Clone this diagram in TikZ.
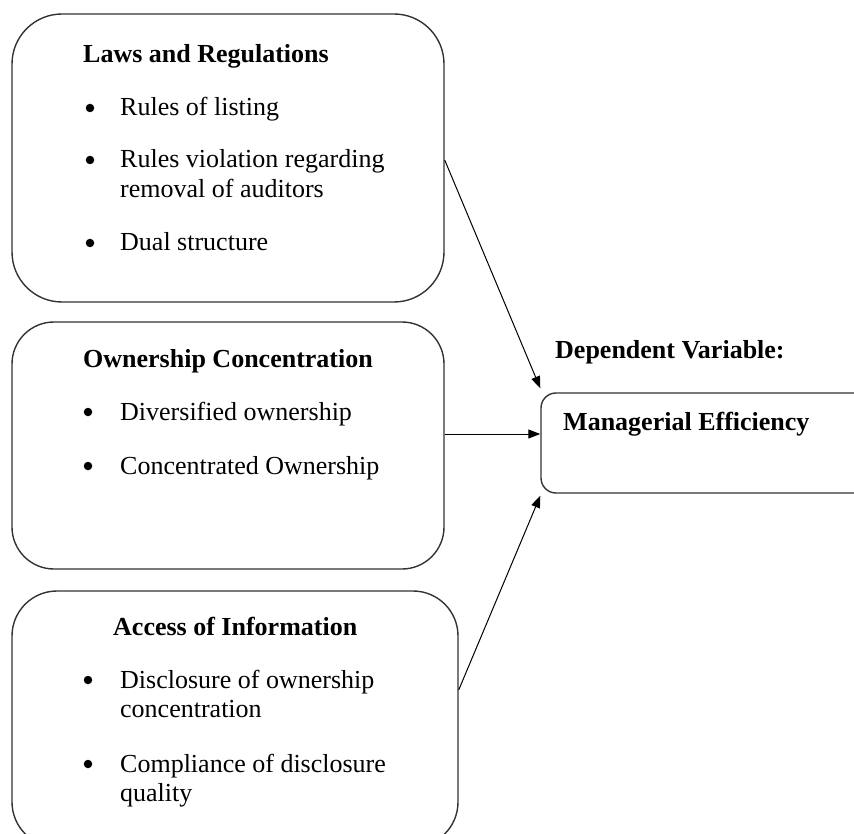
\documentclass[tikz,border=0pt]{standalone}
\usepackage{fontspec}
\setmainfont{Liberation Serif}
\usepackage{tikz}
\usetikzlibrary{positioning,calc,arrows.meta}

\begin{document}
\begin{tikzpicture}[
	x=1pt, y=-1pt,
	font=\fontsize{26}{29.5}\selectfont,
	% khung bo tron
	box/.style={
		draw=black!80, line width=1.4pt, rectangle, inner sep=0pt
	},
	head/.style={font=\fontsize{26}{29.5}\selectfont\bfseries, anchor=base west, inner sep=0pt},
	entry/.style={anchor=base west, inner sep=0pt, text width=330pt, align=flush left},
	dot/.style={circle, fill=black, inner sep=0pt, minimum size=8.5pt},
	% mui ten noi
	link/.style={
		-{Triangle[length=12pt,width=9pt]}, draw=black, line width=1pt
	}
	]
	\useasboundingbox (0,0) rectangle (854,834);
	\clip (0,0) rectangle (854,834);
	
	% cac khung
	\node[box, rounded corners=50pt, minimum width=432pt, minimum height=288pt] (laws) at (228,158) {};
	\node[box, rounded corners=42pt, minimum width=432pt, minimum height=247pt] (owner) at (228,445.5) {};
	\node[box, rounded corners=45pt, minimum width=446pt, minimum height=256pt] (access) at (235,719) {};
	\node[box, rounded corners=15pt, minimum width=330pt, minimum height=100pt] (eff) at (706,443) {};
	
	% Laws and Regulations
	\node[head] (lawshead) at (83,63) {Laws and Regulations};
	\node[dot] (d1) at (90,108) {};
	\node[entry] (listing) at (120,116) {Rules of listing};
	\node[dot] (d2) at (90,160) {};
	\node[entry] (auditors) at (120,168) {Rules violation regarding\\removal of auditors};
	\node[dot] (d3) at (90,243) {};
	\node[entry] (dual) at (120,251) {Dual structure};
	
	% Ownership Concentration
	\node[head] (ownhead) at (83,367) {Ownership Concentration};
	\node[dot] (d4) at (88,412) {};
	\node[entry] (diversified) at (120,420) {Diversified ownership};
	\node[dot] (d5) at (88,466) {};
	\node[entry] (concentrated) at (120,474) {Concentrated Ownership};
	
	% Access of Information
	\node[head] (acchead) at (113,635) {Access of Information};
	\node[dot] (d6) at (88,680) {};
	\node[entry] (disclosure) at (120,688) {Disclosure of ownership\\concentration};
	\node[dot] (d7) at (88,764) {};
	\node[entry] (compliance) at (120,772) {Compliance of disclosure\\quality};
	
	% bien phu thuoc
	\node[head] (dephead) at (555,358) {Dependent Variable:};
	\node[head] (effhead) at (563,430) {Managerial Efficiency};
	
	% mui ten
	\draw[link] ([yshift=-2pt]laws.east) -- ([yshift=4pt]eff.north west);
	\draw[link] ([yshift=11.5pt]owner.east) -- ([yshift=9pt]eff.west);
	\draw[link] ([yshift=29pt]access.east) -- ([yshift=-2pt]eff.south west);
	
\end{tikzpicture}
\end{document}
